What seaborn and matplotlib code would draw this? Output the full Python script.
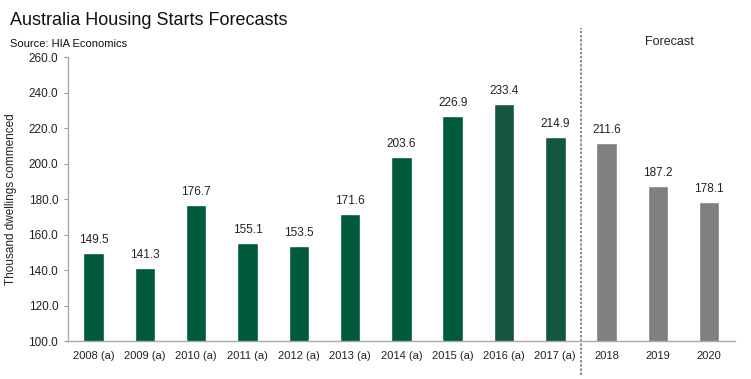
import matplotlib
matplotlib.use('Agg')
import matplotlib.pyplot as plt
import seaborn as sns
import pandas as pd

# Chart data
years = ['2008 (a)', '2009 (a)', '2010 (a)', '2011 (a)', '2012 (a)', '2013 (a)', '2014 (a)',
         '2015 (a)', '2016 (a)', '2017 (a)', '2018', '2019', '2020']
starts = [149.5, 141.3, 176.7, 155.1, 153.5, 171.6, 203.6, 226.9, 233.4, 214.9, 211.6, 187.2, 178.1]
bar_colors = ['#005a3c'] * 8 + ['#14563f'] * 2 + ['#808080'] * 3
y_ticks = [100, 120, 140, 160, 180, 200, 220, 240, 260]

df = pd.DataFrame({'Year': years, 'Starts': starts})

sns.set_style('white')
plt.rcParams['font.family'] = ['Liberation Sans Narrow', 'Liberation Sans', 'DejaVu Sans']

fig = plt.figure(figsize=(7.51, 3.79), dpi=100)
ax = fig.add_axes([0.0905, 0.100, 0.888, 0.7496])

sns.barplot(data=df, x='Year', y='Starts', hue='Year', palette=bar_colors,
            legend=False, width=0.4, ax=ax, saturation=1)

ax.set_ylim(100, 260)
ax.set_yticks(y_ticks)
ax.set_yticklabels([f'{v:.1f}' for v in y_ticks], fontsize=8.5, color='#222222')
ax.set_xlim(-0.5, len(years) - 0.5)
ax.tick_params(axis='x', length=0, labelsize=8, labelcolor='#222222', pad=7)
ax.tick_params(axis='y', length=3, color='#999999', direction='out', left=True, pad=4)
ax.set_xlabel('')
ax.set_ylabel('Thousand dwellings commenced', fontsize=8.5, color='#222222', labelpad=8)

for side in ['top', 'right']:
    ax.spines[side].set_visible(False)
for side in ['left', 'bottom']:
    ax.spines[side].set_color('#aaaaaa')
    ax.spines[side].set_linewidth(1)

# Value labels
for i, v in enumerate(starts):
    ax.text(i, v + 4, f'{v:.1f}', ha='center', va='bottom', fontsize=8.5, color='#222222')

# Forecast divider
ax.axvline(9.5, ymin=-0.12, ymax=1.102, color='#777777', linestyle=(0, (1.5, 1)),
           linewidth=1.2, clip_on=False)
ax.text(0.9025, 1.053, 'Forecast', transform=ax.transAxes, ha='center', va='center',
        fontsize=9, color='#222222')

fig.text(0.013, 0.945, 'Australia Housing Starts Forecasts', fontsize=13, color='#111111',
         ha='left', va='center')
fig.text(0.013, 0.885, 'Source: HIA Economics', fontsize=8, color='#111111',
         ha='left', va='center')

fig.savefig('out.png', dpi=100)
